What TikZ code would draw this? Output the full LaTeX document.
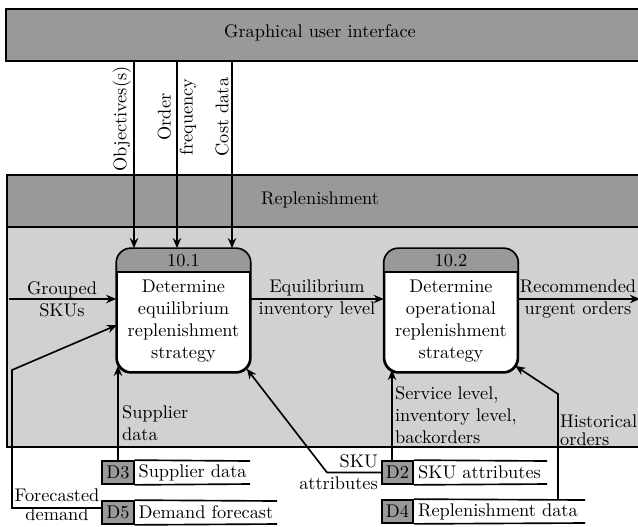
\documentclass[tikz,border=0pt]{standalone}
\usetikzlibrary{arrows.meta,calc}
\definecolor{hdr}{gray}{0.6}
\definecolor{bodyg}{gray}{0.82}
\tikzset{
  ln/.style={line width=0.9pt},
  arr/.style={ln,-{Stealth[length=5.5pt,width=4.6pt]}},
  procbox/.style={draw,ln,fill=white,rounded corners=8pt,minimum width=72.6pt,minimum height=67.2pt,inner sep=0pt},
  dsid/.style={draw,ln,fill=hdr,minimum width=17.2pt,minimum height=12.6pt,inner sep=0pt},
  dstext/.style={anchor=west,inner sep=2pt},
  lbl/.style={align=center,inner sep=1pt},
}
\begin{document}
\begin{tikzpicture}[x=0.546pt,y=-0.546pt]
\useasboundingbox (0,0) rectangle (638,526);
% GUI
\node[draw,ln,fill=hdr,minimum width=362pt,minimum height=28.4pt,inner sep=0pt,anchor=north west] (guibox) at (5,8) {};
\node (gui) at (320,33) {Graphical user interface};
% Replenishment
\node[draw,ln,fill=bodyg,minimum width=362pt,minimum height=148.5pt,inner sep=0pt,anchor=north west] (repbody) at (6,174) {};
\node[draw,ln,fill=hdr,minimum width=362pt,minimum height=28.4pt,inner sep=0pt,anchor=north west] (rephead) at (6,174) {};
\node (rep) at (320,200) {Replenishment};
% processes
\foreach \n/\cx/\num in {p1/183.5/10.1, p2/451/10.2}{
  \node[procbox] (\n) at (\cx,310.5) {};
  \begin{scope}
    \clip[rounded corners=8pt] (\n.north west) rectangle (\n.south east);
    \fill[hdr] (\n.north west) rectangle ($(\n.north east)+(0,24)$);
  \end{scope}
  \draw[ln] ($(\n.north west)+(0,24)$) -- ($(\n.north east)+(0,24)$);
  \draw[ln,rounded corners=8pt] (\n.north west) rectangle (\n.south east);
  \node (\n num) at (\cx,261) {\num};
}
\node[align=center,inner sep=0pt] (p1txt) at (183.5,321) {Determine\\equilibrium\\replenishment\\strategy};
\node[align=center,inner sep=0pt] (p2txt) at (451,321) {Determine\\operational\\replenishment\\strategy};
% data stores
\node[dsid] (d3) at (118,472.5) {D3};
\node[dstext] (d3t) at (d3.east) {Supplier data};
\draw[ln] (d3.north east) -- (250,461) (d3.south east) -- (250,484);
\node[dsid] (d5) at (118,512.5) {D5};
\node[dstext] (d5t) at (d5.east) {Demand forecast};
\draw[ln] (d5.north east) -- (277,501) (d5.south east) -- (277,524);
\node[dsid] (d2) at (397.5,472.5) {D2};
\node[dstext] (d2t) at (d2.east) {SKU attributes};
\draw[ln] (d2.north east) -- (547,461) (d2.south east) -- (547,484);
\node[dsid] (d4) at (397.5,511.5) {D4};
\node[dstext] (d4t) at (d4.east) {Replenishment data};
\draw[ln] (d4.north east) -- (585,500) (d4.south east) -- (585,523);
% GUI arrows
\coordinate (a1) at (134,0);
\coordinate (a2) at (177,0);
\coordinate (a3) at (232,0);
\draw[arr] (guibox.south -| a1) -- (p1.north -| a1);
\draw[arr] (guibox.south -| a2) -- (p1.north -| a2);
\draw[arr] (guibox.south -| a3) -- (p1.north -| a3);
\node[rotate=90,anchor=south,inner sep=1.5pt] (lobj) at (134,119) {Objectives(s)};
\node[rotate=90,align=center,inner sep=0pt] (lord) at (177,117) {Order\\frequency};
\node[rotate=90,anchor=south,inner sep=1.5pt] (lcost) at (232,117) {Cost data};
% horizontal flows
\coordinate (gin) at (9,299);
\coordinate (rout) at (640,299);
\draw[arr] (gin) -- (p1.west |- gin);
\node[lbl] (lgr) at (62,299) {Grouped\\SKUs};
\draw[arr] (p1.east |- gin) -- (p2.west |- gin);
\node[lbl] (leq) at (317,299) {Equilibrium\\inventory level};
\draw[arr] (p2.east |- gin) -- (rout);
\node[lbl] (lrec) at (578,299) {Recommended\\urgent orders};
% forecasted demand
\coordinate (fc1) at (12,508);
\coordinate (fc2) at (12,370);
\draw[arr] (d5.west |- fc1) -- (fc1) -- (fc2) -- (117,325);
\node[align=center,inner sep=0pt] (lfc) at (57,505) {Forecasted\\[-1.5pt]demand};
% supplier data
\draw[arr] (d3.north) -- ($(d3.north |- p1.south)+(0,-7)$);
\node[align=left,anchor=west,inner sep=1.5pt] (lsup) at (119,423) {Supplier\\data};
% SKU attributes
\coordinate (sk1) at (327,472.5);
\draw[arr] (d2.west) -- (sk1) -- ($(p1.south east)+(-4,-4)$);
\node[align=right,anchor=east,inner sep=1.5pt] (lsku) at (d2.west) {SKU\\attributes};
% D2 to p2
\draw[arr] (392,461) -- (392,370);
\node[align=left,anchor=west,inner sep=1.5pt] (lsvc) at (392,415) {Service level,\\inventory level,\\backorders};
% historical orders
\coordinate (h1) at (558,500);
\coordinate (h2) at (558,394);
\draw[arr] (h1) -- (h2) -- ($(p2.south east)+(-3,-7)$);
\node[align=left,anchor=west,inner sep=1pt] (lhist) at (558,430) {Historical\\[-2pt]orders};
\end{tikzpicture}
\end{document}
